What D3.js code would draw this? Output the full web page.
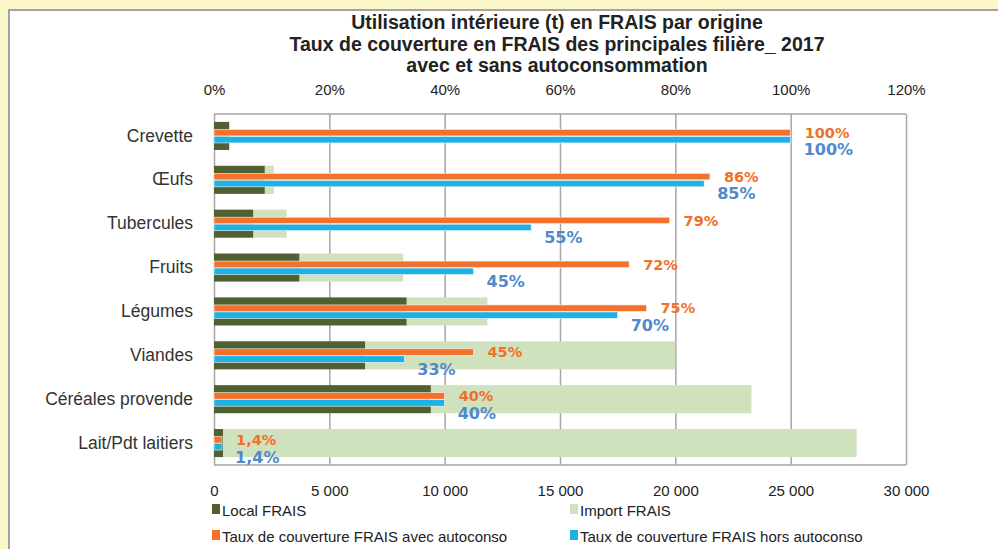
<!DOCTYPE html>
<html>
<head>
<meta charset="utf-8">
<script src="https://cdn.jsdelivr.net/npm/d3@7"></script>
<style>
  body { margin: 0; background: #fbf7c9; }
  #canvas { position: absolute; left: 0; top: 0; }
</style>
</head>
<body>
<div id="canvas"></div>
<script>
"use strict"

/* Data */
let categories = ["Crevette", "Œufs", "Tubercules", "Fruits", "Légumes",
                  "Viandes", "Céréales provende", "Lait/Pdt laitiers"];
let localFrais = [660, 2200, 1700, 3700, 8350, 6550, 9400, 390];
let importFrais = [0, 400, 1450, 4500, 3500, 13450, 13900, 27470];
let tauxAvec = [100, 86, 79, 72, 75, 45, 40, 1.4];
let tauxHors = [100, 85, 55, 45, 70, 33, 40, 1.4];
let tonTicks = [0, 5000, 10000, 15000, 20000, 25000, 30000];
let pctTicks = [0, 20, 40, 60, 80, 100, 120];

/* Drawing config */
let svgWidth = 998;
let svgHeight = 549;
let plotLeft = 214, plotRight = 906, plotTop = 114, plotBottom = 465;
let font = "'Liberation Sans', Arial, sans-serif";

let colLocal = "#4f6130";
let colImport = "#d0e2bd";
let colAvec = "#f2712c";
let colHors = "#1fb0e4";
let colAvecText = "#f0702a";
let colHorsText = "#5089cc";

let svg = d3.select("#canvas")
    .append("svg")
    .attr("width", svgWidth)
    .attr("height", svgHeight)
    .style("font-family", font);

/* white panel with grey top/left edge */
svg.append("rect")
    .attr("x", 8).attr("y", 9)
    .attr("width", svgWidth).attr("height", svgHeight)
    .attr("fill", "white");
svg.append("path")
    .attr("d", "M9," + svgHeight + "V10H" + svgWidth)
    .attr("fill", "none")
    .attr("stroke", "#a3a3a3")
    .attr("stroke-width", 2);

/* scales */
let xTon = d3.scaleLinear().domain([0, 30000]).range([plotLeft, plotRight]);
let xPct = d3.scaleLinear().domain([0, 120]).range([plotLeft, plotRight]);
let yScale = d3.scaleBand()
    .domain(categories)
    .range([plotTop, plotBottom])
    .paddingInner(0.36)
    .paddingOuter(0.18);

/* title */
let titleLines = ["Utilisation intérieure (t) en FRAIS par origine",
                  "Taux de couverture en FRAIS des principales filière_ 2017",
                  "avec et sans autoconsommation"];
titleLines.forEach(function (t, i) {
    svg.append("text")
        .attr("x", 557)
        .attr("y", 29 + i * 21.5)
        .attr("text-anchor", "middle")
        .style("font-family", font)
        .style("font-weight", "bold")
        .style("font-size", "19.5px")
        .style("fill", "#222")
        .text(t);
});

/* gridlines from bottom axis */
svg.append("g")
    .attr("transform", "translate(0," + plotBottom + ")")
    .call(d3.axisBottom(xTon).tickValues(tonTicks).tickSize(-(plotBottom - plotTop)).tickFormat(""))
    .call(g => g.select(".domain").remove())
    .selectAll("line")
    .attr("stroke", "#a6a6a6")
    .attr("stroke-width", 1.5);

/* frame lines */
svg.append("line")
    .attr("x1", plotLeft).attr("x2", plotRight)
    .attr("y1", plotTop).attr("y2", plotTop)
    .attr("stroke", "#a6a6a6").attr("stroke-width", 1.5);
svg.append("line")
    .attr("x1", plotLeft).attr("x2", plotRight)
    .attr("y1", plotBottom).attr("y2", plotBottom)
    .attr("stroke", "#a6a6a6").attr("stroke-width", 1.5);

/* bottom tick labels */
let fmtTon = function (v) { return d3.format(",")(v).replace(/,/g, " "); };
svg.append("g")
    .attr("transform", "translate(0," + (plotBottom + 17) + ")")
    .call(d3.axisBottom(xTon).tickValues(tonTicks).tickSize(0).tickFormat(fmtTon))
    .call(g => g.select(".domain").remove())
    .selectAll("text")
    .style("font-family", font)
    .style("font-size", "15px")
    .style("fill", "#222");

/* top percent tick labels */
svg.append("g")
    .attr("transform", "translate(0," + (plotTop - 16) + ")")
    .call(d3.axisTop(xPct).tickValues(pctTicks).tickSize(0).tickFormat(d => d + "%"))
    .call(g => g.select(".domain").remove())
    .selectAll("text")
    .style("font-family", font)
    .style("font-size", "15px")
    .style("fill", "#222");

/* category labels */
svg.append("g")
    .attr("transform", "translate(" + (plotLeft - 18) + ",0)")
    .call(d3.axisLeft(yScale).tickSize(0))
    .call(g => g.select(".domain").remove())
    .selectAll("text")
    .style("font-family", font)
    .style("font-size", "17.5px")
    .style("fill", "#333");

/* stacked tonnage bars */
let bw = yScale.bandwidth();
svg.append("g").selectAll("rect")
    .data(categories)
    .join("rect")
    .attr("x", (d, i) => xTon(localFrais[i]))
    .attr("y", d => yScale(d))
    .attr("width", (d, i) => xTon(localFrais[i] + importFrais[i]) - xTon(localFrais[i]))
    .attr("height", bw)
    .attr("fill", colImport);

svg.append("g").selectAll("rect")
    .data(categories)
    .join("rect")
    .attr("x", xTon(0))
    .attr("y", d => yScale(d))
    .attr("width", (d, i) => xTon(localFrais[i]) - xTon(0))
    .attr("height", bw)
    .attr("fill", colLocal);

/* coverage rate bars */
let thin = 6.5;
svg.append("g").selectAll("rect")
    .data(categories)
    .join("rect")
    .attr("x", xPct(0))
    .attr("y", d => yScale(d) + bw / 2 - thin)
    .attr("width", (d, i) => xPct(tauxAvec[i]) - xPct(0))
    .attr("height", thin)
    .attr("fill", colAvec)
    .attr("stroke", "#fff5ee")
    .attr("stroke-width", 0.6);

svg.append("g").selectAll("rect")
    .data(categories)
    .join("rect")
    .attr("x", xPct(0))
    .attr("y", d => yScale(d) + bw / 2 + 0.5)
    .attr("width", (d, i) => xPct(tauxHors[i]) - xPct(0))
    .attr("height", thin)
    .attr("fill", colHors)
    .attr("stroke", "#eefaff")
    .attr("stroke-width", 0.6);

/* value labels */
let fmtPct = function (v) { return String(v).replace(".", ",") + "%"; };
svg.append("g").selectAll("text")
    .data(categories)
    .join("text")
    .attr("x", (d, i) => xPct(tauxAvec[i]) + 14)
    .attr("y", d => yScale(d) + bw / 2 - 3)
    .attr("dominant-baseline", "central")
    .style("font-family", "'DejaVu Sans', Verdana, sans-serif")
    .style("font-weight", "bold")
    .style("font-size", "14.5px")
    .style("fill", colAvecText)
    .text((d, i) => fmtPct(tauxAvec[i]));

svg.append("g").selectAll("text")
    .data(categories)
    .join("text")
    .attr("x", (d, i) => xPct(tauxHors[i]) + 13)
    .attr("y", d => yScale(d) + bw / 2 + 14)
    .attr("dominant-baseline", "central")
    .style("font-family", "'DejaVu Sans', Verdana, sans-serif")
    .style("font-weight", "bold")
    .style("font-size", "16px")
    .style("fill", colHorsText)
    .text((d, i) => fmtPct(tauxHors[i]));

/* legend */
let legendItems = [
    {label: "Local FRAIS", color: colLocal, x: 214, y: 510},
    {label: "Import FRAIS", color: colImport, x: 572, y: 510},
    {label: "Taux de couverture FRAIS avec autoconso", color: colAvec, x: 214, y: 536},
    {label: "Taux de couverture FRAIS hors autoconso", color: colHors, x: 572, y: 536}
];
legendItems.forEach(function (it) {
    svg.append("rect")
        .attr("x", it.x - 2)
        .attr("y", it.y - 6)
        .attr("width", 8)
        .attr("height", 10)
        .attr("fill", it.color);
    svg.append("text")
        .attr("x", it.x + 8)
        .attr("y", it.y)
        .attr("dominant-baseline", "central")
        .style("font-family", font)
        .style("font-size", "15px")
        .style("fill", "#222")
        .text(it.label);
});
</script>
</body>
</html>
